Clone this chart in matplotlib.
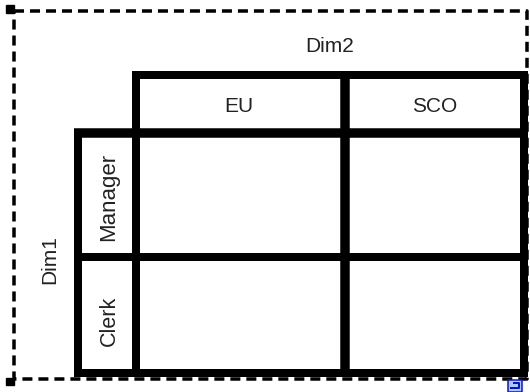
"""Crosstab layout sketch: Dim1 rows against Dim2 columns, empty cells."""
import matplotlib
matplotlib.use('Agg')
import matplotlib.pyplot as plt
from matplotlib.patches import Rectangle

# data
ROW_LABELS = ['Manager', 'Clerk']
COL_LABELS = ['EU', 'SCO']
ROW_TITLE = 'Dim1'
COL_TITLE = 'Dim2'

W, H = 530, 392
PX = 72 / 100   # points per pixel at dpi 100

# grid lines in image pixels
XS = [136, 345, 523.5]
YS = [133, 257, 373]
X_HEAD = 78
Y_HEAD = 75

# label centres in image pixels
COL_X = [239, 435]
ROW_Y = [197, 321]
ROW_SIZE = [16, 15.5]

plt.rcParams['font.family'] = ['Liberation Sans', 'DejaVu Sans']

fig = plt.figure(figsize=(W / 100, H / 100), dpi=100)
ax = fig.add_axes([0, 0, 1, 1])
ax.set_xlim(0, W)
ax.set_ylim(H, 0)
ax.axis('off')

# dashed selection frame
ax.plot([14, 527, 527, 14, 14], [10.5, 10.5, 378.5, 378.5, 10.5],
        color='black', lw=3.5 * PX, ls=(0, (2.86, 1.71)), zorder=1)

# thick table lines
def line(x1, y1, x2, y2, px=8, cap='projecting'):
    ax.plot([x1, x2], [y1, y2], color='black', lw=px * PX,
            solid_capstyle=cap, zorder=3)

line(XS[0], Y_HEAD, XS[-1], Y_HEAD)
line(X_HEAD - 4, YS[0], XS[-1] + 4, YS[0], px=9.5, cap='butt')
for y in YS[1:]:
    line(X_HEAD, y, XS[-1], y)
line(X_HEAD, YS[0], X_HEAD, YS[-1])
line(XS[0], Y_HEAD, XS[0], YS[-1])
line(XS[1], Y_HEAD, XS[1], YS[-1], px=9.5, cap='butt')
line(XS[2], Y_HEAD, XS[2], YS[-1])

# labels
TXT = dict(color='#222222', ha='center', va='center', zorder=4)
for x, lab in zip(COL_X, COL_LABELS):
    ax.text(x, 106, lab, fontsize=15, **TXT)
for y, lab, fs in zip(ROW_Y, ROW_LABELS, ROW_SIZE):
    ax.text(109, y, lab, rotation=90, fontsize=fs, **TXT)
ax.text(330, 46, COL_TITLE, fontsize=15, **TXT)
ax.text(50, 260, ROW_TITLE, rotation=90, fontsize=15, **TXT)

# corner handles
ax.add_patch(Rectangle((6, 5), 8, 8, color='black', zorder=5))
ax.add_patch(Rectangle((6, 378), 8, 7, color='black', zorder=5))

# small blue icon at bottom right
ax.add_patch(Rectangle((508, 380), 14, 12, facecolor='#A8C8FF',
                       edgecolor='#1010C0', lw=1.5 * PX, zorder=5))
ax.plot([511, 519, 519, 514], [388, 388, 383, 383], color='#1010C0',
        lw=2 * PX, zorder=6)

fig.savefig('out.png', dpi=100, facecolor='white')
plt.close(fig)
